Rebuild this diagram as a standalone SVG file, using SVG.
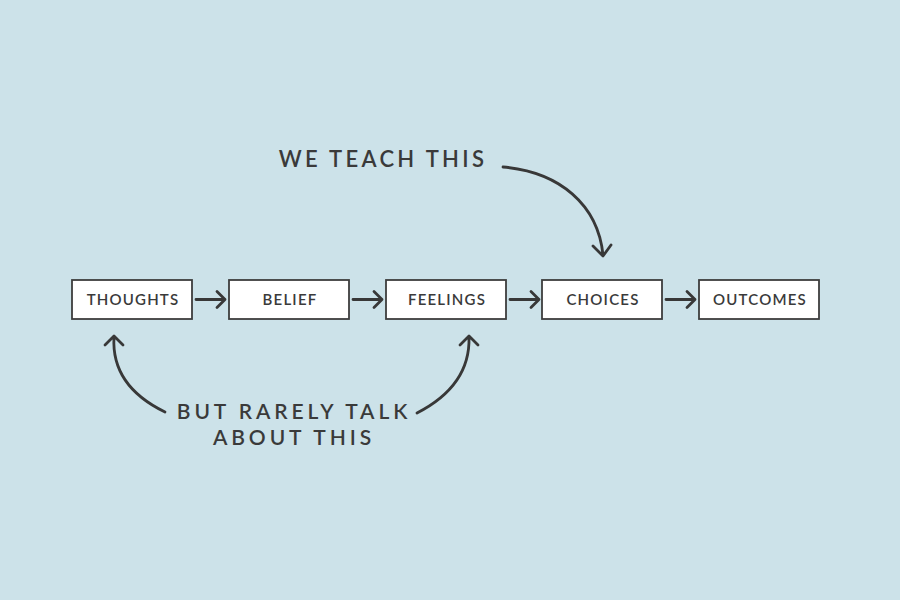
<svg xmlns="http://www.w3.org/2000/svg" width="900" height="600" viewBox="0 0 900 600">
<style>
.box{fill:#ffffff;stroke:#3d3d3d;stroke-width:1.8}
.lbl{font-family:Lato,"Open Sans",sans-serif;font-size:15px;font-weight:600;fill:#3a3a3a;letter-spacing:1.2px;text-anchor:middle}
.big{font-family:Lato,"Open Sans",sans-serif;font-size:22px;font-weight:600;fill:#3a3a3a;letter-spacing:3.3px;text-anchor:middle}
.big2{font-family:Lato,"Open Sans",sans-serif;font-size:21px;font-weight:600;fill:#3a3a3a;letter-spacing:3.9px;text-anchor:middle}
.con{fill:none;stroke:#383838;stroke-width:2.8;stroke-linecap:round;stroke-linejoin:round}
</style>
<rect width="900" height="600" fill="#cce2e9"/>
<g id="thoughts"><rect class="box" x="72" y="280" width="120" height="39"/><text class="lbl" x="133" y="305">THOUGHTS</text></g>
<g id="belief"><rect class="box" x="229" y="280" width="120" height="39"/><text class="lbl" x="290" y="305">BELIEF</text></g>
<g id="feelings"><rect class="box" x="386" y="280" width="120" height="39"/><text class="lbl" x="447" y="305">FEELINGS</text></g>
<g id="choices"><rect class="box" x="542" y="280" width="120" height="39"/><text class="lbl" x="603" y="305">CHOICES</text></g>
<g id="outcomes"><rect class="box" x="699" y="280" width="120" height="39"/><text class="lbl" x="760" y="305">OUTCOMES</text></g>
<g id="label-teach"><text class="big" x="383" y="167">WE TEACH THIS</text></g>
<g id="label-rarely"><text class="big2" x="294" y="419">BUT RARELY TALK</text><text class="big2" x="294" y="445">ABOUT THIS</text></g>
<g id="connectors">
<path class="con" d="M196,299.5 H225 M217,291.5 L225,299.5 L217,307.5"/>
<path class="con" d="M353,299.5 H382 M374,291.5 L382,299.5 L374,307.5"/>
<path class="con" d="M510,299.5 H539 M531,291.5 L539,299.5 L531,307.5"/>
<path class="con" d="M666,299.5 H695 M687,291.5 L695,299.5 L687,307.5"/>
<path class="con" d="M503,167 C560,172 598,205 603,255 M593,246 L603,256 L611,245"/>
<path class="con" d="M165,412 C130,395 112,370 114,337 M105,345 L114,336 L123,345"/>
<path class="con" d="M417,413 C452,395 470,370 469,337 M460,345 L469,336 L478,345"/>
</g>
</svg>
